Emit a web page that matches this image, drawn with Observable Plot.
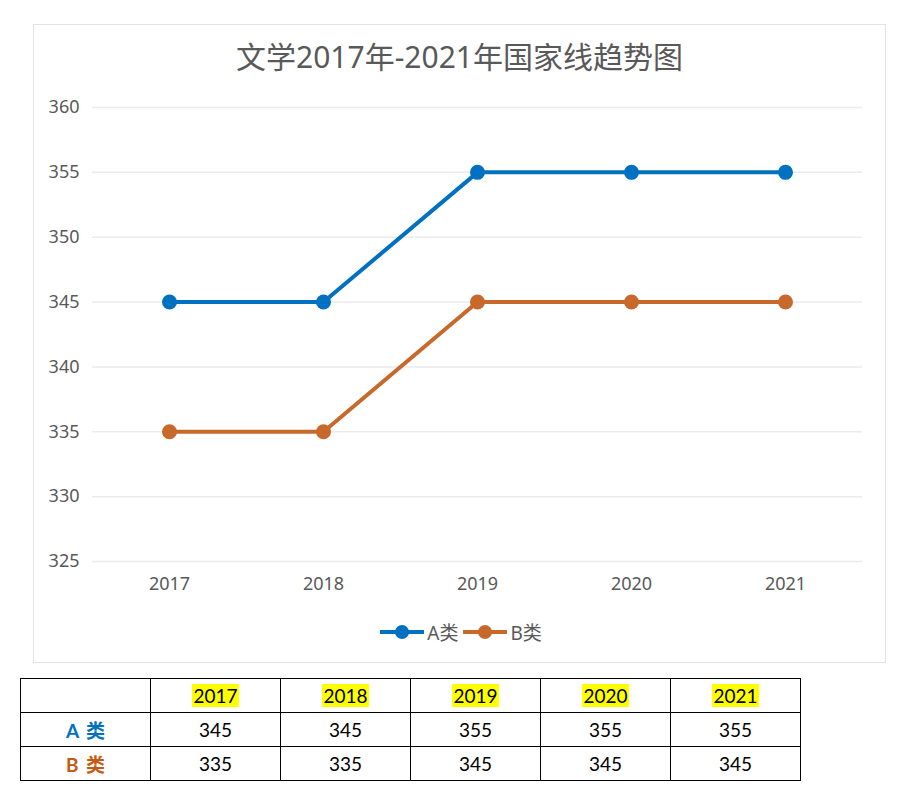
<!DOCTYPE html>
<html>
<head>
<meta charset="utf-8">
<script src="https://cdn.jsdelivr.net/npm/d3@7"></script>
<script src="https://cdn.jsdelivr.net/npm/@observablehq/plot@0.6"></script>
<style>
  html, body { margin: 0; padding: 0; background: #fff; width: 921px; height: 809px; overflow: hidden; }
  #box { position: absolute; left: 33px; top: 24px; width: 851px; height: 637px; border: 1px solid #e3e3e3; }
  #title { position: absolute; left: 33px; top: 36px; width: 853px; text-align: center; font-family: "Noto Sans", "Noto Sans CJK SC", sans-serif; font-size: 30px; color: #595959; line-height: 42px; }
  #plot { position: absolute; left: 33px; top: 90px; }
  #legend { position: absolute; left: 0; top: 618px; width: 921px; text-align: center; font-family: "Noto Sans", "Noto Sans CJK SC", sans-serif; font-size: 19px; color: #595959; }
  #legend svg { vertical-align: middle; }
  .lg { display: inline-flex; align-items: center; margin: 0 2px; }
  #tbl { position: absolute; left: 20px; top: 678px; border-collapse: collapse; font-family: Lato, "Noto Sans CJK SC", sans-serif; font-size: 19px; color: #000; }
  #tbl td { border: 1px solid #000; width: 129px; height: 33px; text-align: center; padding: 0; }
  .hl { background: #ffff00; padding: 0 1px; }
</style>
</head>
<body>
<div id="box"></div>
<div id="title">文学2017年-2021年国家线趋势图</div>
<div id="plot"></div>
<div id="legend"></div>
<table id="tbl"></table>
<script>
const years = ["2017", "2018", "2019", "2020", "2021"];
const seriesNames = ["A类", "B类"];
const aValues = [345, 345, 355, 355, 355];
const bValues = [335, 335, 345, 345, 345];
const yTicks = [325, 330, 335, 340, 345, 350, 355, 360];
const colors = ["#0070c0", "#c8692c"];
const rowLabels = ["A 类", "B 类"];
const labelColors = ["#0070c0", "#c55a11"];

const data = [];
years.forEach((y, i) => {
  data.push({year: y, value: aValues[i], series: seriesNames[0]});
  data.push({year: y, value: bValues[i], series: seriesNames[1]});
});

const chart = Plot.plot({
  width: 853,
  height: 520,
  marginLeft: 59,
  marginRight: 24,
  marginTop: 17,
  marginBottom: 49,
  style: {fontFamily: "'Noto Sans', 'Noto Sans CJK SC', sans-serif", fontSize: "18px", color: "#595959", background: "transparent"},
  x: {type: "point", domain: years, padding: 0.5, label: null, tickSize: 0, tickPadding: 16},
  y: {domain: [325, 360], ticks: yTicks, label: null, tickSize: 0, tickPadding: 13},
  color: {domain: seriesNames, range: colors},
  marks: [
    Plot.gridY(yTicks, {stroke: "#ebebeb", strokeOpacity: 1, strokeWidth: 1.5}),
    Plot.line(data, {x: "year", y: "value", z: "series", stroke: "series", strokeWidth: 4}),
    Plot.dot(data, {x: "year", y: "value", fill: "series", r: 7.5})
  ]
});
chart.querySelectorAll("g[aria-label='y-axis tick label'] text, g[aria-label='x-axis tick label'] text").forEach(t => t.setAttribute("fill", "#595959"));
document.getElementById("plot").appendChild(chart);

// legend
const leg = document.getElementById("legend");
seriesNames.forEach((s, i) => {
  const span = document.createElement("span");
  span.className = "lg";
  span.innerHTML = `<svg width="46" height="20"><line x1="1" y1="10" x2="45" y2="10" stroke="${colors[i]}" stroke-width="4"/><circle cx="23" cy="10" r="7" fill="${colors[i]}"/></svg><span style="margin-left:2px">${s}</span>`;
  leg.appendChild(span);
});

// table
const tbl = document.getElementById("tbl");
let html = "<tr><td></td>" + years.map(y => `<td><span class="hl">${y}</span></td>`).join("") + "</tr>";
[aValues, bValues].forEach((vals, i) => {
  html += `<tr><td style="color:${labelColors[i]};font-weight:bold;word-spacing:3px">${rowLabels[i]}</td>` + vals.map(v => `<td>${v}</td>`).join("") + "</tr>";
});
tbl.innerHTML = html;
</script>
</body>
</html>
